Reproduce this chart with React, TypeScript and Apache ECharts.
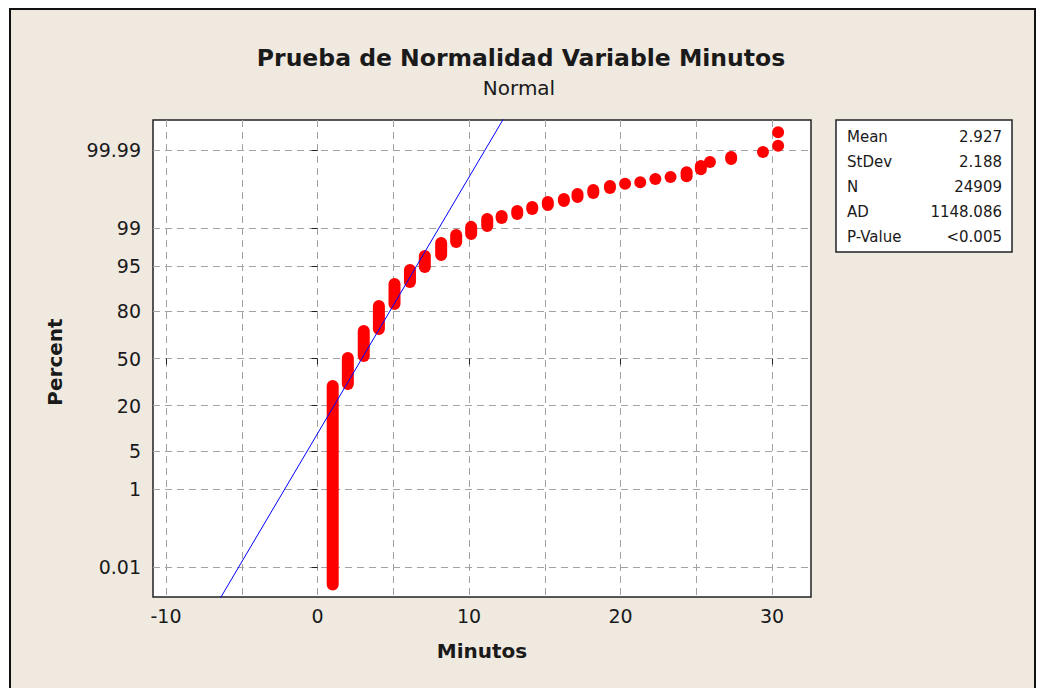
import React, { useEffect, useRef } from "react";
import * as echarts from "echarts";

// ---- Data ----
const statLabels = ["Mean", "StDev", "N", "AD", "P-Value"];
const statValues = ["2.927", "2.188", "24909", "1148.086", "<0.005"];
const fitMean = 2.927;
const fitStDev = 2.188;
const fitLineX = [-8, 14];

const yTickPercents = [0.01, 1, 5, 20, 50, 80, 95, 99, 99.99];
const yTickLabels = ["0.01", "1", "5", "20", "50", "80", "95", "99", "99.99"];
const xTickValues = [-10, 0, 10, 20, 30];
const xGridValues = [-10, -5, 0, 5, 10, 15, 20, 25, 30];

// tied groups of observations: minute value, lowest and highest plotting percent
const groupMinutes = [1.0, 2.0, 3.05, 4.05, 5.08, 6.1, 7.08, 8.16, 9.15, 10.14, 11.2, 12.15, 13.18, 14.17, 15.2, 16.26, 17.16, 18.2, 19.3, 20.3, 21.3, 22.3, 23.3, 24.36, 25.3, 25.9, 27.3, 29.4, 30.4, 30.4];
const groupPctLow = [0.0028, 32.5, 51.8, 70.06, 83.43, 91.37, 94.86, 96.75, 98.11, 98.68, 99.09, 99.386, 99.5, 99.615, 99.689, 99.75, 99.8, 99.841, 99.881, 99.908, 99.916, 99.931, 99.939, 99.942, 99.963, 99.977, 99.981, 99.9883, 99.99248, 99.99721];
const groupPctHigh = [31.2, 50.36, 68.79, 82.54, 90.79, 94.27, 96.61, 98.03, 98.61, 99.05, 99.356, 99.446, 99.572, 99.654, 99.736, 99.777, 99.832, 99.867, 99.895, 99.908, 99.916, 99.931, 99.939, 99.955, 99.97, 99.977, 99.9834, 99.9883, 99.99248, 99.99721];

// inverse standard normal CDF (probability-scale axis transform)
function probit(p: number): number {
  const a = [-3.969683028665376e1, 2.209460984245205e2, -2.759285104469687e2, 1.38357751867269e2, -3.066479806614716e1, 2.506628277459239];
  const b = [-5.447609879822406e1, 1.615858368580409e2, -1.556989798598866e2, 6.680131188771972e1, -1.328068155288572e1];
  const c = [-7.784894002430293e-3, -3.223964580411365e-1, -2.400758276161838, -2.549732539343734, 4.374664141464968, 2.938163982698783];
  const d = [7.784695709041462e-3, 3.224671290700398e-1, 2.445134137142996, 3.754408661907416];
  const pl = 0.02425;
  if (p < pl) {
    const q = Math.sqrt(-2 * Math.log(p));
    return (((((c[0] * q + c[1]) * q + c[2]) * q + c[3]) * q + c[4]) * q + c[5]) / ((((d[0] * q + d[1]) * q + d[2]) * q + d[3]) * q + 1);
  }
  if (p <= 1 - pl) {
    const q = p - 0.5;
    const r = q * q;
    return ((((((a[0] * r + a[1]) * r + a[2]) * r + a[3]) * r + a[4]) * r + a[5]) * q) / (((((b[0] * r + b[1]) * r + b[2]) * r + b[3]) * r + b[4]) * r + 1);
  }
  const q = Math.sqrt(-2 * Math.log(1 - p));
  return -(((((c[0] * q + c[1]) * q + c[2]) * q + c[3]) * q + c[4]) * q + c[5]) / ((((d[0] * q + d[1]) * q + d[2]) * q + d[3]) * q + 1);
}

const FONT = "DejaVu Sans";
const TEXT = "#1a1a1a";

export default function App() {
  const ref = useRef<HTMLDivElement>(null);
  useEffect(() => {
    if (!ref.current) return;
    const chart = echarts.init(ref.current, undefined, { renderer: "svg" });
    const yTickZ = yTickPercents.map((p) => probit(p / 100));
    const groups = groupMinutes.map((m, i) => [m, probit(groupPctLow[i] / 100), probit(groupPctHigh[i] / 100)]);
    const fitData = fitLineX.map((x) => [x, (x - fitMean) / fitStDev]);
    const dash = { type: [7, 5] as any, color: "#a3a3a3", width: 1 };

    const statTexts: any[] = [];
    statLabels.forEach((l, i) => {
      statTexts.push({ type: "text", x: 847, y: 137 + i * 25, style: { text: l, font: `15px ${FONT}`, fill: TEXT, align: "left", verticalAlign: "middle" } });
      statTexts.push({ type: "text", x: 1002, y: 137 + i * 25, style: { text: statValues[i], font: `15px ${FONT}`, fill: TEXT, align: "right", verticalAlign: "middle" } });
    });

    chart.setOption({
      animation: false,
      backgroundColor: "#ffffff",
      grid: { left: 153, top: 120, width: 658, height: 477, show: true, backgroundColor: "#ffffff", borderColor: "#222", borderWidth: 1.5 },
      xAxis: [
        {
          type: "value", min: -10.86, max: 32.57, position: "bottom",
          axisLine: { show: false },
          axisTick: { show: true, length: 6, customValues: xTickValues, lineStyle: { color: "#222" } },
          axisLabel: { customValues: xTickValues, fontSize: 19, fontFamily: FONT, color: TEXT, margin: 9 },
          splitLine: { show: false },
        },
        {
          type: "value", min: -10.86, max: 32.57, position: "top",
          axisLine: { show: false },
          axisTick: { show: false, customValues: xGridValues },
          axisLabel: { show: false, customValues: xGridValues },
          splitLine: { show: true, lineStyle: dash },
        },
      ],
      yAxis: {
        type: "value", min: -4.25, max: 4.25,
        axisLine: { show: false },
        axisTick: { show: true, length: 6, customValues: yTickZ, lineStyle: { color: "#222" } },
        axisLabel: {
          customValues: yTickZ, fontSize: 19, fontFamily: FONT, color: TEXT, margin: 12,
          formatter: (v: number) => {
            const i = yTickZ.findIndex((z) => Math.abs(z - v) < 1e-6);
            return i >= 0 ? yTickLabels[i] : "";
          },
        },
        splitLine: { show: true, lineStyle: dash },
      },
      graphic: [
        { type: "rect", z: -10, shape: { x: 10, y: 9, width: 1025, height: 700 }, style: { fill: "#efe9e0", stroke: "#111", lineWidth: 2 } },
        { type: "text", x: 521, y: 58, style: { text: "Prueba de Normalidad Variable Minutos", font: `bold 23.5px ${FONT}`, fill: TEXT, align: "center", verticalAlign: "middle" } },
        { type: "text", x: 519, y: 88, style: { text: "Normal", font: `20px ${FONT}`, fill: TEXT, align: "center", verticalAlign: "middle" } },
        { type: "text", x: 482, y: 651, style: { text: "Minutos", font: `bold 20px ${FONT}`, fill: TEXT, align: "center", verticalAlign: "middle" } },
        { type: "text", x: 55, y: 362, rotation: Math.PI / 2, style: { text: "Percent", font: `bold 20px ${FONT}`, fill: TEXT, align: "center", verticalAlign: "middle" } },
        { type: "rect", shape: { x: 836, y: 120, width: 176, height: 132 }, style: { fill: "#ffffff", stroke: "#222", lineWidth: 1.5 } },
        ...statTexts,
      ],
      series: [
        {
          type: "custom",
          xAxisIndex: 0, yAxisIndex: 0,
          data: groups,
          encode: { x: 0, y: [1, 2] },
          z: 3,
          renderItem: (params: any, api: any) => {
            const x = api.value(0);
            const p1 = api.coord([x, api.value(1)]);
            const p2 = api.coord([x, api.value(2)]);
            const r = 6;
            return {
              type: "rect",
              shape: { x: p1[0] - r, y: p2[1] - r, width: 2 * r, height: p1[1] - p2[1] + 2 * r, r: r },
              style: { fill: "#ff0000" },
            };
          },
        },
        {
          type: "line",
          xAxisIndex: 0, yAxisIndex: 0,
          data: fitData,
          symbol: "none",
          clip: true,
          z: 4,
          lineStyle: { color: "#0000ff", width: 1 },
        },
      ],
    });
    return () => chart.dispose();
  }, []);
  return <div ref={ref} style={{ position: "absolute", left: 0, top: 0, width: 1040, height: 688 }} />;
}
